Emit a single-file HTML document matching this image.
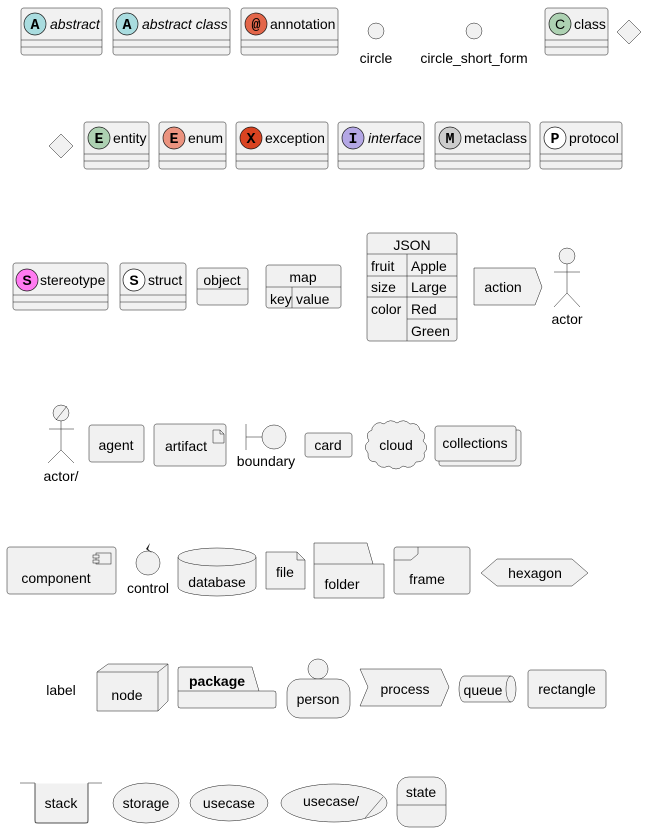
<!DOCTYPE html>
<html><head><meta charset="utf-8"><style>
html,body{margin:0;padding:0;background:#fff;}
svg{display:block;}
text{font-family:"Liberation Sans",sans-serif;font-size:14px;fill:#000;}
.s{fill:#F1F1F1;stroke:#181818;stroke-width:0.5;}
.l{fill:none;stroke:#181818;stroke-width:0.5;}
.ic{font-family:"Liberation Mono",monospace;font-weight:bold;font-size:15px;text-anchor:middle;}
</style></head><body>
<svg width="666" height="840" viewBox="0 0 666 840" xmlns="http://www.w3.org/2000/svg">
<!-- Row 1 -->
<g>
<rect class="s" x="21" y="8" width="81" height="47" rx="2.5"/><line class="l" x1="21" y1="40" x2="102" y2="40"/><line class="l" x1="21" y1="47" x2="102" y2="47"/>
<circle cx="35" cy="24" r="11" fill="#A9DCDF" stroke="#181818" stroke-width="0.7"/><text class="ic" x="35" y="29">A</text>
<text x="50" y="29" font-style="italic">abstract</text>

<rect class="s" x="113" y="8" width="117" height="47" rx="2.5"/><line class="l" x1="113" y1="40" x2="230" y2="40"/><line class="l" x1="113" y1="47" x2="230" y2="47"/>
<circle cx="127" cy="24" r="11" fill="#A9DCDF" stroke="#181818" stroke-width="0.7"/><text class="ic" x="127" y="29">A</text>
<text x="142" y="29" font-style="italic">abstract class</text>

<rect class="s" x="241" y="8" width="97" height="47" rx="2.5"/><line class="l" x1="241" y1="40" x2="338" y2="40"/><line class="l" x1="241" y1="47" x2="338" y2="47"/>
<circle cx="256" cy="24" r="11" fill="#E3664A" stroke="#181818" stroke-width="0.7"/><text class="ic" x="256" y="29">@</text>
<text x="270" y="29">annotation</text>

<circle class="s" cx="376" cy="31" r="8"/><text x="376" y="63" text-anchor="middle">circle</text>
<circle class="s" cx="474" cy="31" r="8"/><text x="474" y="63" text-anchor="middle">circle_short_form</text>

<rect class="s" x="545" y="8" width="63" height="47" rx="2.5"/><line class="l" x1="545" y1="40" x2="608" y2="40"/><line class="l" x1="545" y1="47" x2="608" y2="47"/>
<circle cx="560" cy="24" r="11" fill="#ADD1B2" stroke="#181818" stroke-width="0.7"/><text x="560" y="29" text-anchor="middle" font-size="15">C</text>
<text x="574" y="29">class</text>

<polygon class="s" points="629,20 641,32 629,44 617,32"/>
</g>
<!-- Row 2 -->
<g>
<polygon class="s" points="61,134 73,146 61,158 49,146"/>
<rect class="s" x="84" y="122" width="65" height="47" rx="2.5"/><line class="l" x1="84" y1="154" x2="149" y2="154"/><line class="l" x1="84" y1="161" x2="149" y2="161"/>
<circle cx="99" cy="138" r="11" fill="#ADD1B2" stroke="#181818" stroke-width="0.7"/><text class="ic" x="99" y="143">E</text>
<text x="113" y="143">entity</text>

<rect class="s" x="159" y="122" width="67" height="47" rx="2.5"/><line class="l" x1="159" y1="154" x2="226" y2="154"/><line class="l" x1="159" y1="161" x2="226" y2="161"/>
<circle cx="174" cy="138" r="11" fill="#EB937F" stroke="#181818" stroke-width="0.7"/><text class="ic" x="174" y="143">E</text>
<text x="188" y="143">enum</text>

<rect class="s" x="236" y="122" width="92" height="47" rx="2.5"/><line class="l" x1="236" y1="154" x2="328" y2="154"/><line class="l" x1="236" y1="161" x2="328" y2="161"/>
<circle cx="251" cy="138" r="11" fill="#D94321" stroke="#181818" stroke-width="0.7"/><text class="ic" x="251" y="143">X</text>
<text x="265" y="143">exception</text>

<rect class="s" x="338" y="122" width="86" height="47" rx="2.5"/><line class="l" x1="338" y1="154" x2="424" y2="154"/><line class="l" x1="338" y1="161" x2="424" y2="161"/>
<circle cx="353" cy="138" r="11" fill="#B4A7E5" stroke="#181818" stroke-width="0.7"/><text class="ic" x="353" y="143">I</text>
<text x="368" y="143" font-style="italic">interface</text>

<rect class="s" x="435" y="122" width="95" height="47" rx="2.5"/><line class="l" x1="435" y1="154" x2="530" y2="154"/><line class="l" x1="435" y1="161" x2="530" y2="161"/>
<circle cx="450" cy="138" r="11" fill="#CCCCCC" stroke="#181818" stroke-width="0.7"/><text class="ic" x="450" y="143">M</text>
<text x="464" y="143">metaclass</text>

<rect class="s" x="540" y="122" width="82" height="47" rx="2.5"/><line class="l" x1="540" y1="154" x2="622" y2="154"/><line class="l" x1="540" y1="161" x2="622" y2="161"/>
<circle cx="555" cy="138" r="11" fill="#FFFFFF" stroke="#181818" stroke-width="0.7"/><text class="ic" x="555" y="143">P</text>
<text x="569" y="143">protocol</text>
</g>
<!-- Row 3 -->
<g>
<rect class="s" x="13" y="263" width="95" height="47" rx="2.5"/><line class="l" x1="13" y1="295" x2="108" y2="295"/><line class="l" x1="13" y1="302" x2="108" y2="302"/>
<circle cx="27" cy="280" r="11" fill="#FF7AF0" stroke="#181818" stroke-width="0.7"/><text x="27" y="285" text-anchor="middle" font-weight="bold">S</text>
<text x="40" y="285">stereotype</text>

<rect class="s" x="120" y="263" width="66" height="47" rx="2.5"/><line class="l" x1="120" y1="295" x2="186" y2="295"/><line class="l" x1="120" y1="302" x2="186" y2="302"/>
<circle cx="134" cy="280" r="11" fill="#FFFFFF" stroke="#181818" stroke-width="0.7"/><text x="134" y="285" text-anchor="middle" font-weight="bold">S</text>
<text x="148" y="285">struct</text>

<rect class="s" x="197" y="268" width="51" height="37" rx="2.5"/><line class="l" x1="197" y1="289" x2="248" y2="289"/>
<text x="222" y="285" text-anchor="middle">object</text>

<rect class="s" x="266" y="265" width="75" height="43" rx="2.5"/><line class="l" x1="266" y1="287" x2="341" y2="287"/><line class="l" x1="292" y1="287" x2="292" y2="308"/>
<text x="303" y="282" text-anchor="middle">map</text><text x="270" y="304">key</text><text x="296" y="304">value</text>

<rect class="s" x="367" y="233" width="90" height="108" rx="2.5"/>
<line class="l" x1="367" y1="254" x2="457" y2="254"/><line class="l" x1="367" y1="276" x2="457" y2="276"/><line class="l" x1="367" y1="297" x2="457" y2="297"/><line class="l" x1="407" y1="319" x2="457" y2="319"/><line class="l" x1="407" y1="254" x2="407" y2="341"/>
<text x="412" y="250" text-anchor="middle">JSON</text>
<text x="371" y="271">fruit</text><text x="411" y="271">Apple</text>
<text x="371" y="292">size</text><text x="411" y="292">Large</text>
<text x="371" y="314">color</text><text x="411" y="314">Red</text>
<text x="411" y="336">Green</text>

<polygon class="s" points="474,268 535,268 542,287 535,305 474,305"/>
<text x="503" y="292" text-anchor="middle">action</text>

<circle class="s" cx="567" cy="256" r="8"/>
<line class="l" x1="567" y1="264" x2="567" y2="293"/><line class="l" x1="554" y1="272" x2="580" y2="272"/>
<line class="l" x1="567" y1="293" x2="554" y2="307"/><line class="l" x1="567" y1="293" x2="580" y2="307"/>
<text x="567" y="324" text-anchor="middle">actor</text>
</g>
<!-- Row 4 -->
<g>
<circle class="s" cx="61" cy="413" r="8"/><line class="l" x1="56" y1="420" x2="67" y2="406"/>
<line class="l" x1="61" y1="421" x2="61" y2="450"/><line class="l" x1="49" y1="429" x2="74" y2="429"/>
<line class="l" x1="61" y1="450" x2="48" y2="463"/><line class="l" x1="61" y1="450" x2="74" y2="463"/>
<text x="61" y="481" text-anchor="middle">actor/</text>

<rect class="s" x="89" y="425" width="55" height="37" rx="2.5"/><text x="116" y="450" text-anchor="middle">agent</text>

<rect class="s" x="154" y="424" width="72" height="42" rx="2.5"/>
<path class="l" d="M213,430 h7 l4,4 v9 h-11 z M220,430 v4 h4"/>
<text x="186" y="451" text-anchor="middle">artifact</text>

<line class="l" x1="246" y1="424" x2="246" y2="450"/><line class="l" x1="246" y1="437" x2="262" y2="437"/>
<circle class="s" cx="274" cy="437" r="12"/>
<text x="266" y="466" text-anchor="middle">boundary</text>

<rect class="s" x="305" y="433" width="47" height="24" rx="2.5"/><text x="328" y="450" text-anchor="middle">card</text>

<path class="s" d="M372,428 q5,-8 12,-4 q6,-6 13,-1 q7,-5 13,1 q8,-2 10,6 q8,4 3,11 q7,6 1,12 q2,9 -8,9 q-4,8 -13,4 q-7,6 -14,0 q-9,4 -13,-4 q-9,0 -8,-9 q-6,-7 1,-12 q-5,-8 3,-11 z"/>
<text x="396" y="450" text-anchor="middle">cloud</text>

<rect class="s" x="439" y="430" width="82" height="36" rx="2.5"/>
<rect class="s" x="435" y="426" width="81" height="35" rx="2.5"/>
<text x="475" y="448" text-anchor="middle">collections</text>
</g>
<!-- Row 5 -->
<g>
<rect class="s" x="7" y="547" width="109" height="47" rx="2.5"/>
<rect class="l" x="96" y="553" width="15" height="11"/><rect class="s" x="93" y="555" width="6" height="3"/><rect class="s" x="93" y="560" width="6" height="3"/>
<text x="56" y="583" text-anchor="middle">component</text>

<circle class="s" cx="148" cy="563" r="12"/>
<path d="M146,549 l4,-6 l-2,6 l4,4 z" fill="#181818"/>
<text x="148" y="593" text-anchor="middle">control</text>

<path class="s" d="M178,557 a39,9 0 0 1 78,0 v30 a39,9 0 0 1 -78,0 z"/>
<path class="l" d="M178,557 a39,9 0 0 0 78,0"/>
<text x="217" y="587" text-anchor="middle">database</text>

<path class="s" d="M266,552 h31 l8,8 v29 h-39 z"/><path class="l" d="M297,552 v8 h8"/>
<text x="285" y="577" text-anchor="middle">file</text>

<path class="s" d="M314,543 h53 l6,21 h11 v34 h-70 z"/><line class="l" x1="314" y1="564" x2="373" y2="564"/>
<text x="342" y="589" text-anchor="middle">folder</text>

<rect class="s" x="394" y="547" width="76" height="47" rx="2.5"/>
<path class="l" d="M394,560 h17 l7,-6 v-7"/>
<text x="427" y="584" text-anchor="middle">frame</text>

<polygon class="s" points="481,573 497,559 572,559 588,573 572,586 497,586"/>
<text x="535" y="578" text-anchor="middle">hexagon</text>
</g>
<!-- Row 6 -->
<g>
<text x="61" y="695" text-anchor="middle">label</text>

<path class="s" d="M97,672 l11,-8 h60 v37 l-10,10 h-61 z"/>
<path class="l" d="M97,672 h61 l10,-8 M158,672 v39"/>
<text x="127" y="700" text-anchor="middle">node</text>

<path class="s" d="M178,669 q0,-2 2,-2 h72 l7,24 h15 q2,0 2,2 v13 q0,2 -2,2 h-94 q-2,0 -2,-2 z"/>
<line class="l" x1="178" y1="691" x2="259" y2="691"/>
<text x="189" y="686" font-weight="bold">package</text>

<circle class="s" cx="318" cy="669" r="10"/>
<rect class="s" x="287" y="679" width="63" height="39" rx="13"/>
<text x="318" y="704" text-anchor="middle">person</text>

<polygon class="s" points="360,669 441,669 449,687 441,706 360,706 368,687"/>
<text x="405" y="694" text-anchor="middle">process</text>

<path class="s" d="M464,676 h47 a5,13 0 0 1 0,26 h-47 a5,13 0 0 1 0,-26 z"/>
<path class="l" d="M511,676 a5,13 0 0 0 0,26"/>
<text x="483" y="695" text-anchor="middle">queue</text>

<rect class="s" x="528" y="670" width="78" height="38" rx="2.5"/>
<text x="567" y="694" text-anchor="middle">rectangle</text>
</g>
<!-- Row 7 -->
<g>
<rect class="s" x="35" y="783" width="53" height="40" rx="1"/>
<rect x="34" y="780" width="55" height="3.5" fill="#fff"/>
<path class="l" d="M20,783 h15 v37 q0,3 3,3 h47 q3,0 3,-3 v-37 h14"/>
<text x="61" y="808" text-anchor="middle">stack</text>

<ellipse class="s" cx="146" cy="803" rx="33" ry="20"/><text x="146" y="808" text-anchor="middle">storage</text>
<ellipse class="s" cx="229" cy="803" rx="39" ry="18"/><text x="229" y="808" text-anchor="middle">usecase</text>
<ellipse class="s" cx="334" cy="803" rx="53" ry="19"/><line class="l" x1="365" y1="818" x2="383" y2="797"/>
<text x="331" y="806" text-anchor="middle">usecase/</text>
<rect class="s" x="397" y="777" width="49" height="50" rx="12"/><line class="l" x1="397" y1="805" x2="446" y2="805"/>
<text x="421" y="797" text-anchor="middle">state</text>
</g>
</svg>
</body></html>
